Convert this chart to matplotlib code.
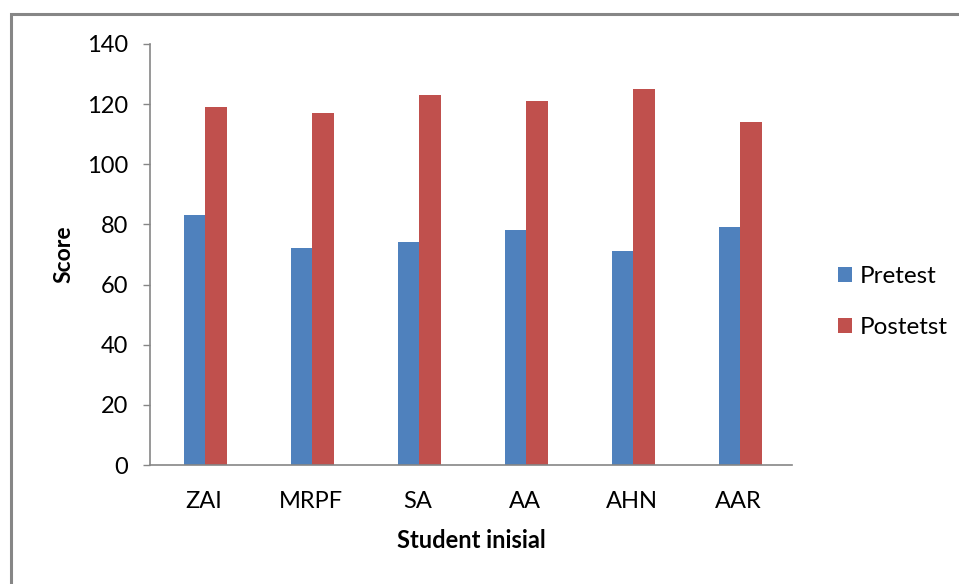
import numpy as np
import matplotlib.pyplot as plt
from matplotlib.patches import Rectangle

students = ['ZAI', 'MRPF', 'SA', 'AA', 'AHN', 'AAR']
pretest = [83, 72, 74, 78, 71, 79]
posttest = [119, 117, 123, 121, 125, 114]

plt.rcParams['font.family'] = ['Lato', 'DejaVu Sans']

fig = plt.figure(figsize=(9.59, 5.84), dpi=100)
ax = fig.add_axes([150/959, 1-465/584, (792-150)/959, (465-44)/584])

x = np.arange(len(students))
w = 0.2
ax.bar(x - w/2 + 0.015, pretest, w, color='#4F81BD', label='Pretest')
ax.bar(x + w/2 + 0.015, posttest, w, color='#C0504D', label='Postetst')

ax.set_xlim(-0.5, len(students) - 0.5)
ax.set_ylim(0, 140)
ax.set_yticks(range(0, 141, 20))
ax.set_xticks(x)
ax.set_xticklabels(students)

for s in ['top', 'right']:
    ax.spines[s].set_visible(False)
for s in ['left', 'bottom']:
    ax.spines[s].set_color('#868686')
    ax.spines[s].set_linewidth(1.2)

ax.tick_params(axis='y', length=5, width=1, color='#868686', pad=11, labelsize=17)
ax.tick_params(axis='x', length=0, pad=19, labelsize=17)

ax.set_ylabel('Score', fontsize=16.5, fontweight='bold', labelpad=9)
ax.set_xlabel('Student inisial', fontsize=17, fontweight='bold', labelpad=12)

fig.legend(loc='center left', bbox_to_anchor=(816/959, 1-302/584), frameon=False,
           fontsize=17.5, handlelength=0.6, handleheight=0.6, handletextpad=0.3,
           labelspacing=1.25)

# chart frame
fig.patches.append(Rectangle((11/959, -0.1), 1.1, 1 - 14/584 + 0.1,
                             transform=fig.transFigure, fill=False,
                             edgecolor='#868686', linewidth=2.2))

fig.savefig('out.png', dpi=100)
